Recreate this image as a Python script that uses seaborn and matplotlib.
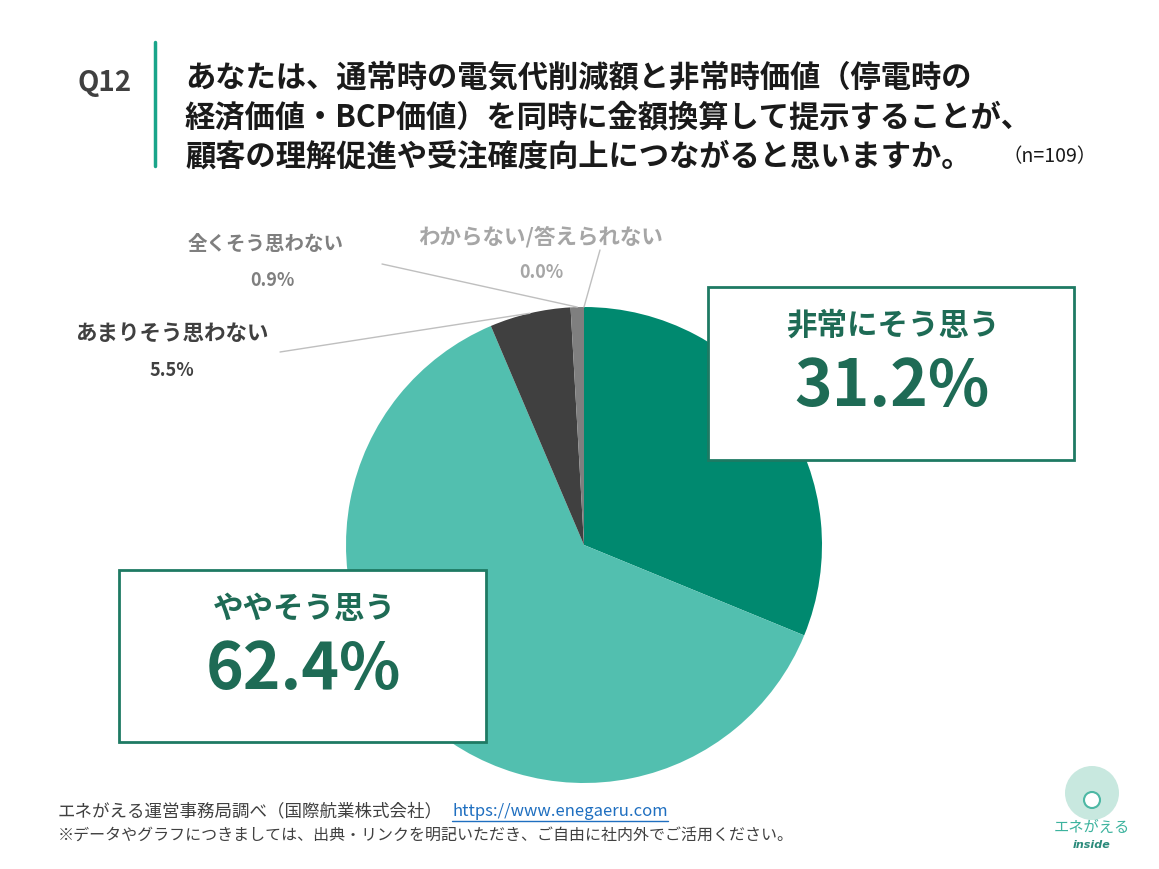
import numpy as np
import seaborn as sns
import matplotlib.pyplot as plt
from matplotlib.patches import Rectangle, Circle

# Data
labels = ["非常にそう思う", "ややそう思う", "あまりそう思わない", "全くそう思わない", "わからない/答えられない"]
values = [31.2, 62.4, 5.5, 0.9, 0.0]
colors = ["#00896F", "#52BFAF", "#404040", "#7F7F7F", "#BFBFBF"]
title_lines = [
    "あなたは、通常時の電気代削減額と非常時価値（停電時の",
    "経済価値・BCP価値）を同時に金額換算して提示することが、",
    "顧客の理解促進や受注確度向上につながると思いますか。",
]

sns.set_theme(style="white")
plt.rcParams["font.family"] = ["Noto Sans CJK JP", "DejaVu Sans"]

W, H = 1159, 869
fig = plt.figure(figsize=(W / 100, H / 100), dpi=100)
fig.patch.set_facecolor("white")

# pie axes: centre (584, 545), radius 238 px
cx, cy, r = 584, 545, 238
ax = fig.add_axes([(cx - r) / W, 1 - (cy + r) / H, 2 * r / W, 2 * r / H])
palette = sns.color_palette(colors)
wedges, _ = ax.pie(values, colors=palette, startangle=90, counterclock=False,
                   wedgeprops=dict(linewidth=0))
ax.set_xlim(-1, 1)
ax.set_ylim(-1, 1)
ax.set_aspect("equal")
ax.axis("off")

# overlay axes in pixel coordinates (y down)
ov = fig.add_axes([0, 0, 1, 1], facecolor="none")
ov.set_xlim(0, W)
ov.set_ylim(H, 0)
ov.axis("off")

# title block
ov.text(105, 83, "Q12", fontsize=20, fontweight="bold", color="#404040", ha="center", va="center")
ov.plot([155, 155], [42, 166], color="#1AA58A", lw=2.5)
for i, line in enumerate(title_lines):
    ov.text(185, 77 + 40 * i, line, fontsize=21.8, fontweight="bold", color="#1A1A1A",
            ha="left", va="center")
ov.text(1002, 157, "（n=109）", fontsize=14, color="#1A1A1A", ha="left", va="center")


def wedge_point(w, rad=1.0):
    ang = np.deg2rad((w.theta1 + w.theta2) / 2)
    return rad * np.cos(ang), rad * np.sin(ang)


def to_pix(xy):
    x, y = fig.transFigure.inverted().transform(ax.transData.transform(xy))
    return x * W, (1 - y) * H


# small labels with leader lines
small = [
    (2, (172, 333), (172, 370), (280, 352), "#404040", 15.5, 13),
    (3, (266, 244), (272, 281), (382, 264), "#7F7F7F", 14, 13),
    (4, (541, 237), (541, 272), (600, 250), "#A6A6A6", 15.5, 13),
]
for idx, lpos, vpos, start, col, fs_l, fs_v in small:
    ov.text(*lpos, labels[idx], fontsize=fs_l, fontweight="bold", color=col, ha="center", va="center")
    ov.text(*vpos, f"{values[idx]:.1f}%", fontsize=fs_v, fontweight="bold", color=col,
            ha="center", va="center")
    ex, ey = to_pix(wedge_point(wedges[idx], 1.0))
    ov.plot([start[0], ex], [start[1], ey], color="#BFBFBF", lw=1)

# big label boxes
big = [
    (0, (708, 287, 366, 173)),
    (1, (119, 570, 367, 172)),
]
for idx, (bx, by, bw, bh) in big:
    ov.add_patch(Rectangle((bx, by), bw, bh, facecolor="white", edgecolor="#1E7A63", lw=2, zorder=3))
    mx = bx + bw / 2
    ov.text(mx + 2, by + 39, labels[idx], fontsize=22, fontweight="bold", color="#1E6B55",
            ha="center", va="center", zorder=4)
    ov.text(mx + 1, by + 100, f"{values[idx]:.1f}%", fontsize=46, fontweight="bold", color="#1E6B55",
            ha="center", va="center", zorder=4)

# footer
ov.text(58, 811, "エネがえる運営事務局調べ（国際航業株式会社）", fontsize=12.6, color="#404040",
        ha="left", va="center")
ov.text(452, 811, "https://www.enegaeru.com", fontsize=12, color="#1F6FC0", ha="left", va="center")
ov.plot([452, 668], [821, 821], color="#1F6FC0", lw=1)
ov.text(58, 835, "※データやグラフにつきましては、出典・リンクを明記いただき、ご自由に社内外でご活用ください。",
        fontsize=11.5, color="#404040", ha="left", va="center")

# logo
ov.add_patch(Circle((1092, 793), 27, facecolor="#C8E8DF", edgecolor="none"))
ov.add_patch(Circle((1092, 800), 8, facecolor="white", edgecolor="#4DB8A4", lw=1.5))
ov.text(1092, 827, "エネがえる", fontsize=11, color="#3DB39E", ha="center", va="center")
ov.text(1092, 845, "inside", fontsize=8, fontweight="bold", style="italic", color="#2A8A7A",
        ha="center", va="center", family="DejaVu Sans")

fig.savefig("out.png", dpi=100)
